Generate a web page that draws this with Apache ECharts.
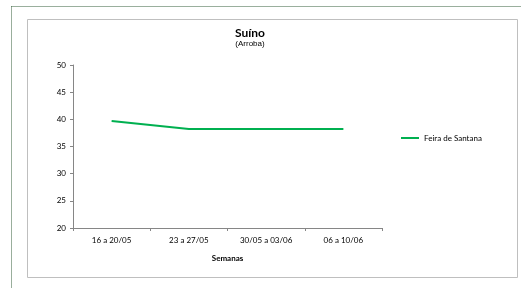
<!DOCTYPE html>
<html>
<head>
<meta charset="utf-8">
<script src="https://cdn.jsdelivr.net/npm/echarts@6/dist/echarts.min.js"></script>
<style>
  html, body { margin: 0; padding: 0; background: #fff; }
  #chart { width: 521px; height: 288px; }
</style>
</head>
<body>
<div id="chart"></div>
<script>
  const weeks = ["16 a 20/05", "23 a 27/05", "30/05 a 03/06", "06 a 10/06"];
  const feiraDeSantana = [39.7, 38.2, 38.2, 38.2];
  const seriesName = "Feira de Santana";

  const chart = echarts.init(document.getElementById("chart"));
  const labelFont = "Lato, 'Open Sans', sans-serif";

  chart.setOption({
    backgroundColor: "#fff",
    animation: false,
    graphic: [
      // outer dotted page border
      { type: "line", shape: { x1: 11.5, y1: 6.5, x2: 521, y2: 6.5 },
        style: { stroke: "#355e3b", lineWidth: 1, lineDash: [1, 1] } },
      { type: "line", shape: { x1: 11.5, y1: 6.5, x2: 11.5, y2: 288 },
        style: { stroke: "#355e3b", lineWidth: 1, lineDash: [1, 1] } },
      // chart frame
      { type: "rect", shape: { x: 27.5, y: 19.5, width: 490, height: 258 },
        style: { fill: "none", stroke: "#bfbfbf", lineWidth: 1 } },
    ],
    title: {
      text: "Suíno",
      subtext: "(Arroba)",
      left: 245,
      textAlign: "center",
      top: 22,
      itemGap: 1,
      textStyle: { fontFamily: labelFont, fontWeight: "bold", fontSize: 12, color: "#000" },
      subtextStyle: { fontFamily: "'Liberation Sans', Arial, sans-serif", fontSize: 8, color: "#000" },
    },
    legend: {
      data: [seriesName],
      left: 401,
      top: 134,
      padding: 0,
      itemWidth: 18,
      itemHeight: 2,
      itemGap: 0,
      icon: "rect",
      textStyle: { fontFamily: labelFont, fontSize: 8, color: "#000" },
    },
    grid: { left: 73, right: 139, top: 65, bottom: 60 },
    xAxis: {
      type: "category",
      data: weeks,
      boundaryGap: true,
      name: "Semanas",
      nameLocation: "middle",
      nameGap: 26,
      nameTextStyle: { fontFamily: labelFont, fontWeight: "bold", fontSize: 8, color: "#000" },
      axisLine: { lineStyle: { color: "#868686" } },
      axisTick: { show: true, length: 3, alignWithLabel: false, lineStyle: { color: "#868686" } },
      axisLabel: { fontFamily: labelFont, fontSize: 8, color: "#000", margin: 8 },
      splitLine: { show: false },
    },
    yAxis: {
      type: "value",
      min: 20,
      max: 50,
      interval: 5,
      axisLine: { show: true, lineStyle: { color: "#868686" } },
      axisTick: { show: true, length: 3, lineStyle: { color: "#868686" } },
      axisLabel: { fontFamily: labelFont, fontSize: 8, color: "#000", margin: 7 },
      splitLine: { show: false },
    },
    series: [
      {
        name: seriesName,
        type: "line",
        data: feiraDeSantana,
        symbol: "none",
        lineStyle: { color: "#00b050", width: 2 },
        itemStyle: { color: "#00b050" },
      },
    ],
  });
</script>
</body>
</html>
